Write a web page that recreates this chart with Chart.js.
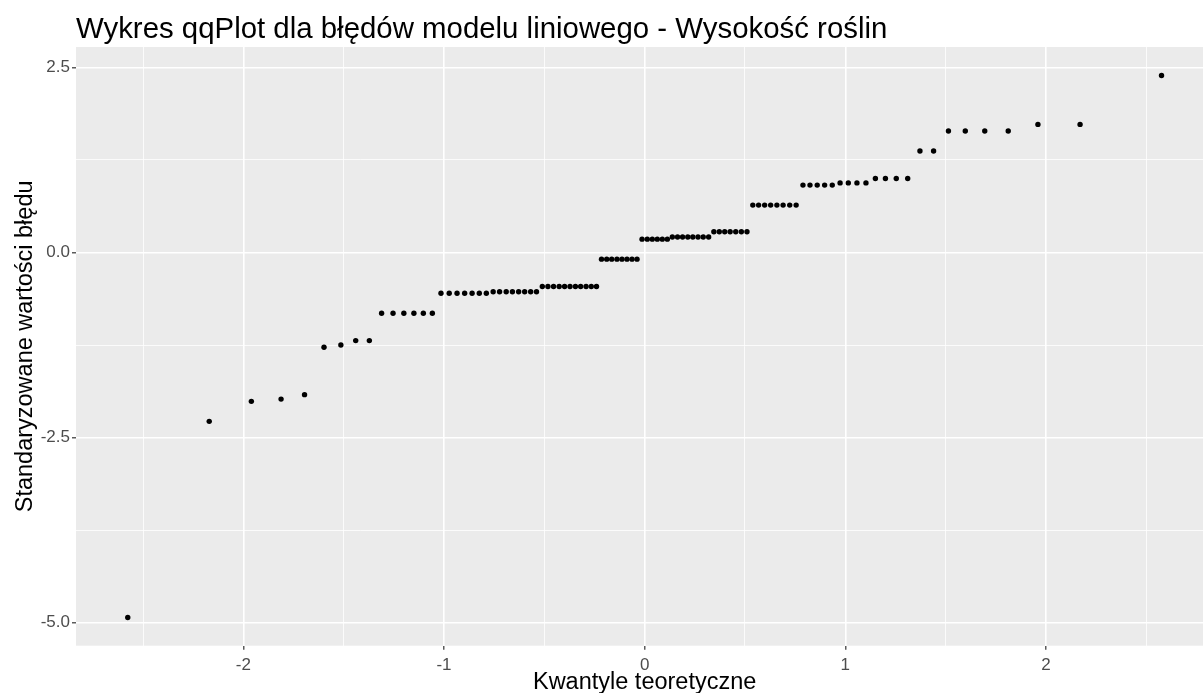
<!DOCTYPE html>
<html lang="pl">
<head>
<meta charset="utf-8">
<title>Wykres qqPlot dla błędów modelu liniowego - Wysokość roślin</title>
<script src="https://cdn.jsdelivr.net/npm/chart.js@4.4.1/dist/chart.umd.min.js"></script>
<style>
  html, body { margin: 0; padding: 0; background: #ffffff; overflow: hidden; }
  /* the panel runs on past the right edge of the frame */
  #wrap { position: relative; width: 1203px; height: 693px; overflow: hidden; }
  #qq { display: block; }
</style>
</head>
<body>
<div id="wrap"><canvas id="qq" width="1216" height="693"></canvas></div>
<script>
// Theoretical normal quantiles (x) for the 100 residuals
const theoreticalQuantiles = [
  -2.576, -2.170, -1.960, -1.812, -1.695, -1.598, -1.514, -1.440, -1.372, -1.311,
  -1.254, -1.200, -1.150, -1.103, -1.058, -1.015, -0.974, -0.935, -0.897, -0.860,
  -0.824, -0.789, -0.755, -0.723, -0.690, -0.659, -0.628, -0.598, -0.568, -0.539,
  -0.510, -0.482, -0.454, -0.426, -0.399, -0.372, -0.345, -0.319, -0.292, -0.266,
  -0.240, -0.215, -0.189, -0.164, -0.138, -0.113, -0.088, -0.063, -0.038, -0.013,
   0.013,  0.038,  0.063,  0.088,  0.113,  0.138,  0.164,  0.189,  0.215,  0.240,
   0.266,  0.292,  0.319,  0.345,  0.372,  0.399,  0.426,  0.454,  0.482,  0.510,
   0.539,  0.568,  0.598,  0.628,  0.659,  0.690,  0.723,  0.755,  0.789,  0.824,
   0.860,  0.897,  0.935,  0.974,  1.015,  1.058,  1.103,  1.150,  1.200,  1.254,
   1.311,  1.372,  1.440,  1.514,  1.598,  1.695,  1.812,  1.960,  2.170,  2.576
];

// Sorted standardized residuals of the linear model (y)
const standardizedResiduals = [
  -4.93, -2.28, -2.01, -1.98, -1.92, -1.28, -1.25, -1.19, -1.19, -0.82,
  -0.82, -0.82, -0.82, -0.82, -0.82, -0.55, -0.55, -0.55, -0.55, -0.55,
  -0.55, -0.55, -0.53, -0.53, -0.53, -0.53, -0.53, -0.53, -0.53, -0.53,
  -0.46, -0.46, -0.46, -0.46, -0.46, -0.46, -0.46, -0.46, -0.46, -0.46,
  -0.46, -0.09, -0.09, -0.09, -0.09, -0.09, -0.09, -0.09, -0.09,  0.18,
   0.18,  0.18,  0.18,  0.18,  0.18,  0.21,  0.21,  0.21,  0.21,  0.21,
   0.21,  0.21,  0.21,  0.28,  0.28,  0.28,  0.28,  0.28,  0.28,  0.28,
   0.64,  0.64,  0.64,  0.64,  0.64,  0.64,  0.64,  0.64,  0.91,  0.91,
   0.91,  0.91,  0.91,  0.94,  0.94,  0.94,  0.94,  1.00,  1.00,  1.00,
   1.00,  1.37,  1.37,  1.64,  1.64,  1.64,  1.64,  1.73,  1.73,  2.39
];

// Grid positions: labelled major breaks and unlabelled minor breaks
const xMajorTicks = [-2, -1, 0, 1, 2];
const xMinorTicks = [-2.5, -1.5, -0.5, 0.5, 1.5, 2.5];
const yMajorTicks = [-5, -2.5, 0, 2.5];
const yMinorTicks = [-3.75, -1.25, 1.25];

const titleText = 'Wykres qqPlot dla błędów modelu liniowego - Wysokość roślin';
const xTitleText = 'Kwantyle teoretyczne';
const yTitleText = 'Standaryzowane wartości błędu';

const FONT = '"Liberation Sans", Arial, Helvetica, sans-serif';
const PANEL_BG = '#EBEBEB';

const points = theoreticalQuantiles.map((q, i) => ({ x: q, y: standardizedResiduals[i] }));

function tickList(majors, minors) {
  return majors.concat(minors).sort((a, b) => a - b).map(v => ({ value: v }));
}
const isMajor = (list, v) => list.some(m => Math.abs(m - v) < 1e-9);

// grey panel behind the points
const panelBackground = {
  id: 'panelBackground',
  beforeDraw(chart) {
    const { ctx, chartArea: a } = chart;
    ctx.save();
    ctx.fillStyle = PANEL_BG;
    ctx.fillRect(a.left, a.top, a.right - a.left, a.bottom - a.top);
    ctx.restore();
  }
};

new Chart(document.getElementById('qq'), {
  type: 'scatter',
  data: {
    datasets: [{
      data: points,
      pointRadius: 2.7,
      pointHoverRadius: 2.7,
      pointBackgroundColor: '#000000',
      pointBorderWidth: 0
    }]
  },
  plugins: [panelBackground],
  options: {
    responsive: false,
    animation: false,
    events: [],
    layout: { padding: { left: 0, right: 0, top: 0, bottom: 0 } },
    plugins: {
      legend: { display: false },
      tooltip: { enabled: false },
      title: {
        display: true,
        text: titleText,
        align: 'start',
        fullSize: false,
        color: '#000000',
        font: { family: FONT, size: 29.4, weight: 'normal', lineHeight: 1.15 },
        padding: { top: 12.5, bottom: 0.7 }
      }
    },
    scales: {
      x: {
        type: 'linear',
        min: -2.834,
        max: 2.834,
        afterBuildTicks(scale) { scale.ticks = tickList(xMajorTicks, xMinorTicks); },
        afterFit(scale) { scale.height = 47.3; },
        border: { display: false },
        grid: {
          color: '#FFFFFF',
          lineWidth: ctx => isMajor(xMajorTicks, ctx.tick.value) ? 1.6 : 0.8,
          drawTicks: true,
          tickLength: 4,
          tickWidth: 1.2,
          tickColor: ctx => isMajor(xMajorTicks, ctx.tick.value) ? '#333333' : 'rgba(0,0,0,0)'
        },
        ticks: {
          color: '#4D4D4D',
          padding: 5,
          maxRotation: 0,
          autoSkip: false,
          font: { family: FONT, size: 17 },
          callback: v => isMajor(xMajorTicks, v) ? String(v) : ''
        },
        title: {
          display: true,
          text: xTitleText,
          color: '#000000',
          font: { family: FONT, size: 23.5, lineHeight: 0.85 },
          padding: { top: 0, bottom: 0 }
        }
      },
      y: {
        type: 'linear',
        min: -5.31,
        max: 2.775,
        afterBuildTicks(scale) { scale.ticks = tickList(yMajorTicks, yMinorTicks); },
        afterFit(scale) { scale.width = 76; },
        border: { display: false },
        grid: {
          color: '#FFFFFF',
          lineWidth: ctx => isMajor(yMajorTicks, ctx.tick.value) ? 1.6 : 0.8,
          drawTicks: true,
          tickLength: 4,
          tickWidth: 1.2,
          tickColor: ctx => isMajor(yMajorTicks, ctx.tick.value) ? '#333333' : 'rgba(0,0,0,0)'
        },
        ticks: {
          color: '#4D4D4D',
          padding: 2,
          autoSkip: false,
          font: { family: FONT, size: 17 },
          callback: v => isMajor(yMajorTicks, v) ? Number(v).toFixed(1) : ''
        },
        title: {
          display: true,
          text: yTitleText,
          color: '#000000',
          font: { family: FONT, size: 23.5, lineHeight: 1.0 },
          padding: { top: 14, bottom: 0 }
        }
      }
    }
  }
});
</script>
</body>
</html>
